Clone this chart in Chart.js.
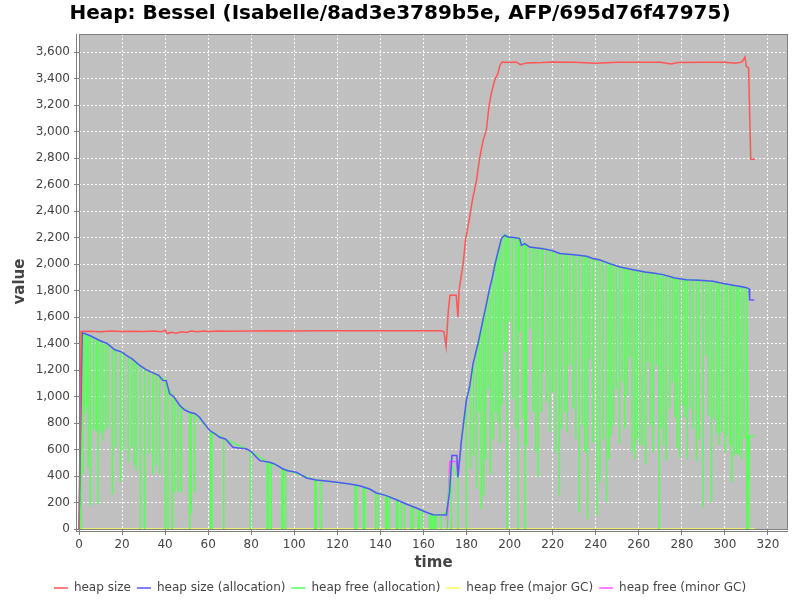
<!DOCTYPE html>
<html>
<head>
<meta charset="utf-8">
<script src="https://cdn.jsdelivr.net/npm/chart.js@4/dist/chart.umd.min.js"></script>
<style>
  html, body { margin: 0; padding: 0; background: #fff; }
  #wrap { width: 800px; height: 600px; }
</style>
</head>
<body>
<div id="wrap"><canvas id="chart" width="800" height="600"></canvas></div>
<script>
// heap size (red)
const sizeT = [0, 1, 5, 10, 15, 20, 25, 30, 35, 38, 40, 41, 43, 45, 48, 50, 52, 55, 58, 60, 65, 70, 80, 90, 100, 110, 120, 130, 140, 150, 160, 168, 169.5, 170.5, 171.5, 172.3, 175.2, 176, 176.5, 178.4, 179.6, 181.2, 182.7, 184.6, 186.1, 187.7, 189.2, 190.4, 191.5, 193.1, 194.6, 195.5, 196.5, 200, 203, 205, 208, 215, 220, 230, 240, 250, 260, 270, 275, 278, 290, 300, 305, 308, 309.3, 310, 311, 312, 314];
const sizeV = [0, 1490, 1492, 1488, 1495, 1490, 1493, 1490, 1494, 1488, 1500, 1475, 1485, 1478, 1488, 1484, 1495, 1488, 1495, 1490, 1495, 1493, 1495, 1497, 1495, 1497, 1497, 1496, 1497, 1497, 1497, 1497, 1490, 1378, 1640, 1764, 1764, 1600, 1800, 2000, 2190, 2330, 2480, 2630, 2800, 2935, 3010, 3187, 3288, 3389, 3440, 3500, 3525, 3520, 3525, 3505, 3518, 3520, 3525, 3522, 3515, 3522, 3522, 3522, 3510, 3520, 3522, 3522, 3515, 3525, 3562, 3490, 3480, 2790, 2790];

// heap size (allocation) (blue)
const allocT = [0, 1.5, 5, 9.6, 13, 16.6, 20, 22, 25, 28.2, 31, 33.6, 37, 39, 40.5, 42.1, 44, 46.8, 49, 51.4, 54, 56, 58.5, 60.7, 63, 65.3, 68, 71.5, 75, 77.7, 80, 82.4, 84, 88.6, 91, 94.8, 97, 100.9, 103, 105.6, 110.2, 118, 125.7, 130.3, 135, 138.1, 142.7, 147.4, 152, 156.7, 161.3, 164.4, 170.6, 172.1, 173.2, 175.5, 176, 177.6, 179.9, 181.5, 183, 185.3, 187.6, 189, 190.7, 192, 193.1, 194.6, 196.2, 197.7, 199.3, 202, 204.7, 205.5, 207, 209.3, 215.5, 220, 223.3, 230, 235.7, 238.7, 242, 246.5, 251.3, 257.4, 262.8, 266.6, 271.3, 276.7, 282.1, 288.3, 294.5, 297.6, 303.8, 308.5, 310.3, 311.2, 311.5, 313.6];
const allocV = [0, 1480, 1460, 1423, 1400, 1353, 1335, 1310, 1280, 1234, 1205, 1184, 1160, 1121, 1120, 1020, 1000, 932, 900, 881, 870, 844, 790, 743, 720, 692, 680, 617, 610, 605, 585, 541, 516, 504, 490, 453, 440, 428, 410, 385, 370, 357, 340, 327, 302, 272, 252, 221, 189, 158, 126, 108, 106, 277, 554, 554, 390, 667, 970, 1080, 1247, 1398, 1575, 1680, 1814, 1900, 1990, 2091, 2192, 2217, 2204, 2200, 2192, 2141, 2154, 2128, 2116, 2100, 2079, 2070, 2058, 2041, 2030, 2003, 1977, 1957, 1940, 1932, 1920, 1895, 1882, 1877, 1869, 1858, 1839, 1827, 1820, 1814, 1730, 1728];

// heap free (allocation) (green): spike times, value before/after the drop, value at the bottom
const freeT = [1, 1.9, 2.6, 3.7, 4.3, 5.3, 6.8, 8, 8.8, 9.9, 11.1, 12.4, 13.5, 15.5, 17, 19.2, 20.7, 22.9, 24.5, 25.7, 26.6, 28.5, 30.5, 32.5, 34.4, 35.9, 37.5, 40.1, 41.3, 43.3, 44.4, 46, 47.5, 51.4, 52.2, 53.7, 61, 61.8, 67.2, 79.6,
  87.3, 88.1, 89.3, 94.3, 94.8, 96, 109.5, 110.2, 112.6, 128.1, 128.9, 132, 132.7, 137.8, 138.9, 142.5, 143.2, 144.3, 147.4, 148.1, 149.7, 151.2, 154.3, 155.1, 157.5, 158.2, 159.5, 162.8, 163.6, 164.4, 165.1, 165.9, 168.3, 170.8,
  172.9, 176, 179.9, 181.8, 183.3, 184.6, 185.8, 186.9, 188, 188.9, 190, 191.1, 192.3, 193.6, 194.6, 195.5, 196.5, 197.8, 198.8, 199.8, 201.3, 202.9, 204, 204.7, 206, 207.1, 207.8, 209.4, 210.9, 212.2, 213.3, 214.8, 215.6, 217.2, 218.7, 220, 221.5, 223.1, 224.2, 225.7, 226.8, 228, 229.6, 230.8, 232.4, 233.9, 235, 236.2, 237.3, 238.8, 240.4, 241.9, 243.4, 245, 246.2, 247.3, 248.4, 249.6, 251.1, 252.4, 253.5, 254.7, 255.8, 256.9, 258.1, 259.2, 260.4, 261.7, 263.2, 264.3, 265.4, 266.6, 268.2, 269.3, 270.5, 271.6, 272.8, 274.4, 275.6, 276.7, 277.8, 279, 280.3, 281.4, 282.5, 283.7, 285, 286.8, 288.1, 289.9, 291.2, 292.3, 293.8, 294.9, 296.2, 297.4, 298.5, 300, 301.1, 302.4, 303.2, 304.3, 305.5, 306.7, 307.8, 308.9, 310.1];
const freeTop = [1480, 1478, 1474, 1468, 1464, 1457, 1445, 1436, 1430, 1421, 1413, 1404, 1393, 1367, 1351, 1339, 1326, 1301, 1285, 1270, 1257, 1231, 1210, 1193, 1178, 1168, 1150, 1120, 1070, 1008, 990, 952, 922, 881, 878, 871, 740, 732, 683, 588,
  507, 505, 500, 458, 453, 446, 372, 370, 366, 333, 331, 320, 314, 275, 268, 253, 249, 242, 221, 216, 205, 195, 174, 169, 153, 148, 139, 117, 112, 108, 108, 108, 107, 130,
  480, 390, 970, 1110, 1265, 1350, 1435, 1520, 1605, 1673, 1760, 1840, 1922, 2025, 2091, 2145, 2197, 2217, 2210, 2203, 2201, 2197, 2194, 2192, 2145, 2153, 2145, 2128, 2125, 2122, 2120, 2118, 2116, 2110, 2105, 2100, 2090, 2080, 2078, 2076, 2074, 2073, 2071, 2068, 2065, 2062, 2060, 2055, 2050, 2041, 2036, 2031, 2021, 2012, 2005, 1999, 1994, 1986, 1978, 1973, 1970, 1966, 1962, 1958, 1955, 1951, 1948, 1944, 1939, 1937, 1935, 1932, 1928, 1925, 1922, 1919, 1912, 1905, 1900, 1895, 1893, 1890, 1886, 1884, 1882, 1881, 1880, 1878, 1877, 1875, 1873, 1872, 1870, 1868, 1863, 1859, 1856, 1850, 1847, 1843, 1841, 1838, 1835, 1832, 1829, 1826, 1821];
const freeLow = [0, 415, 869, 920, 466, 176, 743, 743, 189, 718, 667, 743, 768, 264, 617, 353, 592, 504, 617, 479, 441, 0, 0, 567, 416, 479, 416, 0, 0, 0, 277, 277, 277, 0, 113, 277, 0, 0, 0, 0,
  0, 0, 0, 0, 0, 0, 0, 0, 0, 0, 0, 0, 0, 0, 0, 0, 0, 0, 0, 0, 0, 0, 0, 0, 0, 0, 0, 0, 0, 0, 0, 0, 0, 0,
  0, 0, 0, 453, 553, 302, 882, 151, 252, 529, 1058, 416, 680, 882, 806, 650, 932, 1335, 0, 1562, 983, 756, 0, 1486, 832, 0, 630, 1511, 882, 579, 390, 882, 1184, 958, 731, 1033, 579, 252, 756, 882, 731, 1234, 907, 680, 126, 781, 579, 76, 1285, 655, 101, 353, 680, 201, 529, 705, 781, 1058, 642, 1108, 756, 1008, 1297, 579, 529, 680, 630, 630, 491, 1259, 781, 579, 1234, 0, 756, 630, 516, 907, 1108, 844, 605, 541, 932, 844, 529, 907, 756, 516, 680, 164, 1310, 857, 201, 832, 718, 630, 731, 579, 705, 630, 353, 554, 567, 554, 529, 680, 0];
const freeTailT = [310.9, 311.3, 313.8];
const freeTailV = [0, 700, 700];

// heap free (major GC) (yellow)
const majorT = [0, 313.8];
const majorV = [0, 0];

// heap free (minor GC) (magenta), mostly hidden under the blue line
const minorT = [0, 0.5, 100, 170.6, 171, 172.2, 175.5, 176, 177.6];
const minorV = [0, 250, null, 104, 5, 509, 509, 390, 660];

const X_MAX = 329.3;
const Y_MAX = 3736;

const zip = (ts, vs) => ts.map((t, i) => ({ x: t, y: vs[i] }));

const freeData = [];
freeT.forEach((t, i) => {
  freeData.push({ x: t, y: freeTop[i] }, { x: t, y: freeLow[i] }, { x: t, y: freeTop[i] });
});
freeTailT.forEach((t, i) => freeData.push({ x: t, y: freeTailV[i] }));

// grey plot background + frame like the original
const plotFrame = {
  id: 'plotFrame',
  beforeDraw(chart) {
    const { ctx, chartArea: a } = chart;
    ctx.save();
    ctx.fillStyle = '#c0c0c0';
    ctx.fillRect(a.left, a.top, a.width, a.height);
    ctx.restore();
  },
  afterDatasetsDraw(chart) {
    const { ctx, chartArea: a } = chart;
    ctx.save();
    ctx.lineWidth = 1;
    ctx.strokeStyle = '#808080';
    ctx.strokeRect(a.left + 0.5, a.top + 0.5, a.width - 1, a.height);
    ctx.beginPath();
    ctx.moveTo(a.left - 2.5, a.top);
    ctx.lineTo(a.left - 2.5, a.bottom + 3);
    ctx.moveTo(a.left - 3, a.bottom + 2.5);
    ctx.lineTo(a.right, a.bottom + 2.5);
    ctx.stroke();
    ctx.restore();
  }
};

const line = (label, data, color) => ({
  label, data,
  borderColor: color, backgroundColor: color,
  borderWidth: 1.5, pointRadius: 0, tension: 0, spanGaps: false, clip: 2
});

const tickFont = { family: "'DejaVu Sans', sans-serif", size: 12 };
const labelFont = { family: "'DejaVu Sans', sans-serif", size: 15, weight: 'bold' };

new Chart(document.getElementById('chart'), {
  type: 'line',
  data: {
    datasets: [
      line('heap size', zip(sizeT, sizeV), '#ff5555'),
      line('heap size (allocation)', zip(allocT, allocV), '#5555ff'),
      line('heap free (allocation)', freeData, '#55ff55'),
      line('heap free (major GC)', zip(majorT, majorV), '#ffff55'),
      line('heap free (minor GC)', zip(minorT, minorV), '#ff55ff')
    ]
  },
  options: {
    responsive: false,
    animation: false,
    locale: 'en-US',
    layout: { padding: { left: 0, right: 0, top: 0, bottom: -4 } },
    plugins: {
      title: {
        display: true,
        text: 'Heap: Bessel (Isabelle/8ad3e3789b5e, AFP/695d76f47975)',
        color: '#000',
        font: { family: "'DejaVu Sans', sans-serif", size: 20, weight: 'bold' },
        padding: { top: 2, bottom: 8 }
      },
      legend: {
        position: 'bottom',
        labels: {
          color: '#444',
          font: tickFont,
          usePointStyle: true,
          pointStyle: 'line',
          pointStyleWidth: 14,
          boxHeight: 12,
          padding: 6
        }
      },
      tooltip: { enabled: false }
    },
    scales: {
      x: {
        type: 'linear',
        min: 0, max: X_MAX,
        afterFit: s => { s.height = 47; },
        ticks: {
          stepSize: 20, includeBounds: false, autoSkip: false, maxRotation: 0,
          color: '#444', padding: 3, font: tickFont
        },
        grid: { color: 'rgba(255,255,255,0.95)', lineWidth: 1, tickColor: '#808080', tickLength: 6 },
        border: { display: false, dash: [2, 2] },
        title: { display: true, text: 'time', color: '#444', font: labelFont, padding: { top: 0, bottom: 4 } }
      },
      y: {
        min: 0, max: Y_MAX,
        afterFit: s => { s.width = 79; },
        ticks: {
          stepSize: 200, includeBounds: false, autoSkip: false,
          color: '#444', padding: 4, font: tickFont
        },
        grid: { color: 'rgba(255,255,255,0.95)', lineWidth: 1, tickColor: '#808080', tickLength: 5 },
        border: { display: false, dash: [2, 2] },
        title: { display: true, text: 'value', color: '#444', font: labelFont, padding: { top: 11, bottom: 0 } }
      },
      // empty right-hand axis, only keeps the 12px gap right of the plot
      yRight: {
        position: 'right',
        display: true,
        afterFit: s => { s.width = 12; },
        ticks: { display: false },
        grid: { display: false, drawTicks: false },
        border: { display: false }
      }
    }
  },
  plugins: [plotFrame]
});
</script>
</body>
</html>
